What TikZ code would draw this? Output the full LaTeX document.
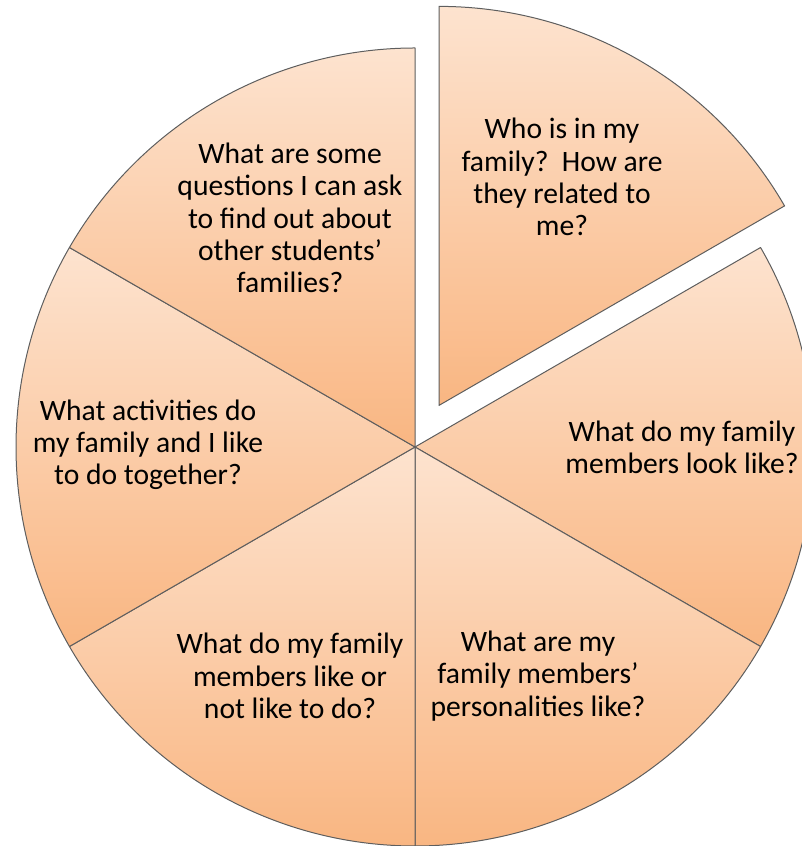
\documentclass[tikz,border=0pt]{standalone}
\usepackage{fontspec}
\setmainfont{Carlito}
\definecolor{pLight}{HTML}{FDE3CF}
\definecolor{pDark}{HTML}{F9B682}
\definecolor{pEdge}{HTML}{5E5E5E}
\begin{document}
\begin{tikzpicture}[x=0.75pt,y=0.75pt,
  slice/.style={draw=pEdge, line width=0.75pt, top color=pLight, bottom color=pDark, line join=round},
  lbl/.style={align=center, inner sep=0pt, font=\fontsize{22.2}{24.2}\selectfont, text=black}]
\useasboundingbox (0,0) rectangle (801,846);
\coordinate (C) at (415,399);
\coordinate (E) at (439,440.6);
% exploded slice (top right)
\path[slice] (E) -- ++(30:399) arc[start angle=30,end angle=90,radius=399] -- cycle;
% right
\path[slice] (C) -- ++(-30:399) arc[start angle=-30,end angle=30,radius=399] -- cycle;
% bottom right
\path[slice] (C) -- ++(-90:399) arc[start angle=-90,end angle=-30,radius=399] -- cycle;
% bottom left
\path[slice] (C) -- ++(210:399) arc[start angle=210,end angle=270,radius=399] -- cycle;
% left
\path[slice] (C) -- ++(150:399) arc[start angle=150,end angle=210,radius=399] -- cycle;
% top left
\path[slice] (C) -- ++(90:399) arc[start angle=90,end angle=150,radius=399] -- cycle;
% labels
\node[lbl] (t1) at (562,669) {Who is in my\\family?\ \ How are\\they related to\\me?};
\node[lbl] (t6) at (290,628) {What are some\\questions I can ask\\to find out about\\other students’\\families?};
\node[lbl] (t5) at (148,401) {What activities do\\my family and I like\\to do together?};
\node[lbl] (t2) at (682,399) {What do my family\\members look like?};
\node[lbl] (t4) at (290,170) {What do my family\\members like or\\not like to do?};
\node[lbl] (t3) at (538,170) {What are my\\family members’\\personalities like?};
\end{tikzpicture}
\end{document}
